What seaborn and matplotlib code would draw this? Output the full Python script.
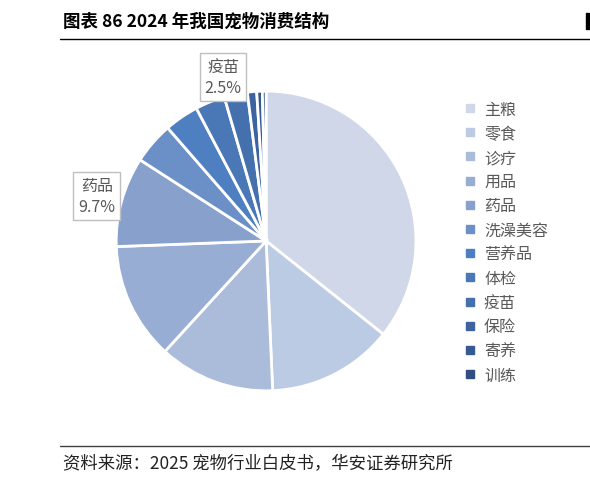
import matplotlib
matplotlib.use('Agg')
import matplotlib.pyplot as plt
import seaborn as sns
from matplotlib.patches import Rectangle
from matplotlib.lines import Line2D

# data (share of pet spending, %)
categories = ['主粮', '零食', '诊疗', '用品', '药品', '洗澡美容', '营养品', '体检', '疫苗', '保险', '寄养', '训练']
shares = [35.7, 13.6, 12.5, 12.6, 9.7, 4.5, 3.7, 3.2, 2.5, 1.0, 0.6, 0.4]
colors = ['#d0d7e8', '#bccbe4', '#abbcda', '#98add3', '#87a1cc', '#6b8fc7',
          '#4e7fc0', '#4a78b6', '#4470ad', '#3d64a0', '#355a91', '#2e4f80']
labelled = {'药品': (-1.13, 0.30), '疫苗': (-0.287, 1.093)}

sns.set_theme(style='white')
plt.rcParams['font.family'] = ['Noto Sans CJK SC', 'DejaVu Sans']

fig = plt.figure(figsize=(5.9, 4.81), dpi=100)
ax = fig.add_axes([0.197, 0.185, 0.508, 0.624])

wedges, _ = ax.pie(shares, colors=colors, startangle=90, counterclock=False,
                   wedgeprops=dict(edgecolor='white', linewidth=2))
ax.set_aspect('equal')
ax.set_xlim(-1.0, 1.0)
ax.set_ylim(-1.0, 1.0)

# callout labels
for name, (lx, ly) in labelled.items():
    v = shares[categories.index(name)]
    ax.text(lx, ly, f'{name}\n{v:.1f}%', ha='center', va='center', fontsize=11.5,
            color='#595959', linespacing=1.3,
            bbox=dict(boxstyle='square,pad=0.3', fc='white', ec='#bfbfbf', lw=1))

# legend
handles = [Line2D([0], [0], marker='s', ls='', markersize=5.5, markerfacecolor=c,
                  markeredgecolor=c) for c in colors]
fig.legend(handles, categories, loc='upper left', bbox_to_anchor=(0.777, 0.802),
           frameon=False, fontsize=11.5, labelcolor='#595959', handlelength=0.7,
           handletextpad=0.5, labelspacing=0.45, borderaxespad=0)

# header / footer
fig.text(0.107, 0.954, '图表 86 2024 年我国宠物消费结构', fontsize=12.6, fontweight='bold',
         color='black', va='center', ha='left')
fig.add_artist(Line2D([0.102, 1.0], [0.917, 0.917], color='black', lw=1))
fig.add_artist(Rectangle((0.994, 0.937), 0.005, 0.033, color='black', transform=fig.transFigure))
fig.add_artist(Line2D([0.102, 1.0], [0.071, 0.071], color='#404040', lw=1))
fig.text(0.107, 0.035, '资料来源：2025 宠物行业白皮书，华安证券研究所', fontsize=12.5,
         color='#222222', va='center', ha='left')

fig.savefig('out.png', dpi=100)
